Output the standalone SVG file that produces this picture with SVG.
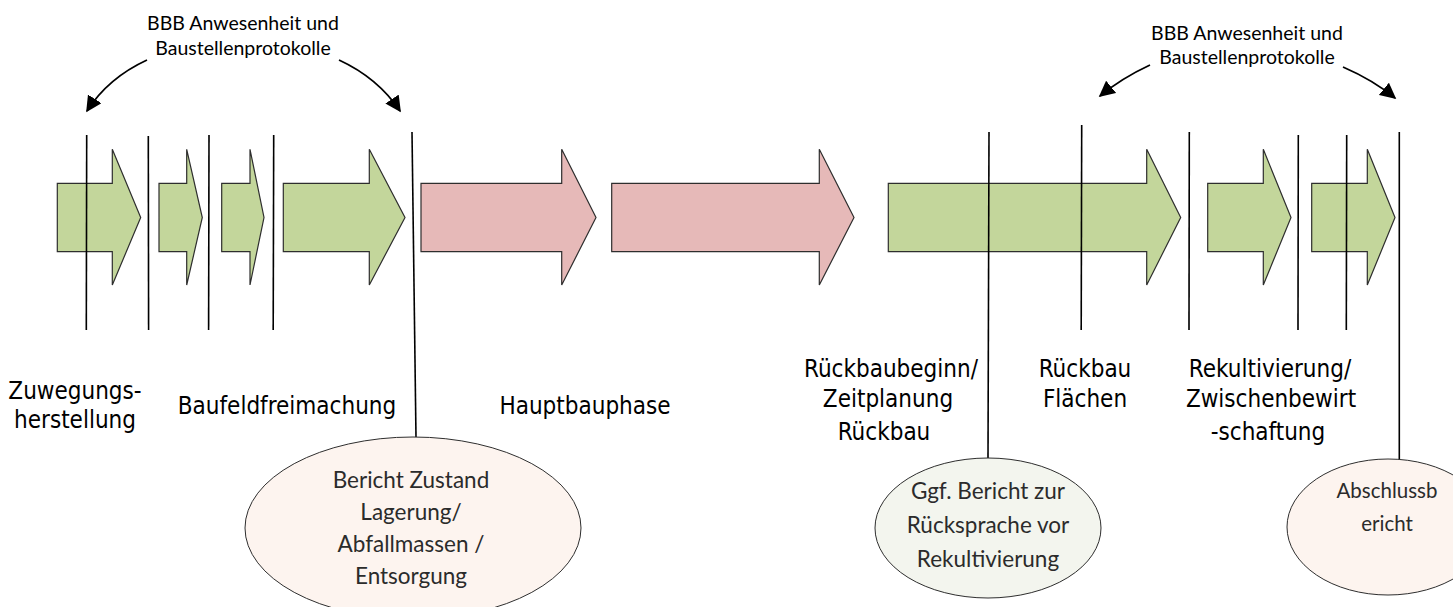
<svg xmlns="http://www.w3.org/2000/svg" width="1453" height="607" viewBox="0 0 1453 607">
<style>
.g{fill:#c3d69b;stroke:#2e2e2e;stroke-width:1.2}
.r{fill:#e6b9b8;stroke:#2e2e2e;stroke-width:1.2}
.v{stroke:#000;stroke-width:1.6;fill:none}
.c{stroke:#000;stroke-width:1.8;fill:none}
.lab{font-family:"Liberation Sans Narrow","DejaVu Sans Condensed","Liberation Sans",sans-serif;font-size:24px;fill:#000;text-anchor:middle}
.top{font-family:Lato,"Open Sans",sans-serif;font-size:19.5px;fill:#000;text-anchor:middle}
.ell{font-family:Lato,"Open Sans",sans-serif;font-size:22.5px;fill:#2b2b2b;text-anchor:middle}
.ell3{font-family:Lato,"Open Sans",sans-serif;font-size:20.5px;fill:#2b2b2b;text-anchor:middle}
.e1{fill:#fdf4ef;stroke:#2e2e2e;stroke-width:1}
.e2{fill:#f3f5ee;stroke:#2e2e2e;stroke-width:1}
</style>
<defs>
<marker id="ah2" viewBox="0 0 10 10" refX="9" refY="5" markerWidth="16" markerHeight="16" markerUnits="userSpaceOnUse" orient="auto">
<path d="M0,0 L10,5 L0,10 z" fill="#000"/>
</marker>
</defs>

<g id="arrows">
<polygon id="a1" class="g" points="57.3,183.3 112.3,183.3 112.3,149.3 140.7,217.5 112.3,285 112.3,251.7 57.3,251.7"/>
<polygon id="a2" class="g" points="159,183.3 186.7,183.3 186.7,149.3 202.3,217.5 186.7,285 186.7,251.7 159,251.7"/>
<polygon id="a3" class="g" points="221.7,183.3 250,183.3 250,149.3 264,217.5 250,285 250,251.7 221.7,251.7"/>
<polygon id="a4" class="g" points="283.3,183.3 369.3,183.3 369.3,149.3 405,217.5 369.3,285 369.3,251.7 283.3,251.7"/>
<polygon id="a5" class="r" points="421,183.3 561.7,183.3 561.7,149.3 596,217.5 561.7,285 561.7,251.7 421,251.7"/>
<polygon id="a6" class="r" points="611.7,183.3 819.3,183.3 819.3,149.3 854,217.5 819.3,285 819.3,251.7 611.7,251.7"/>
<polygon id="a7" class="g" points="888.3,183.3 1146.7,183.3 1146.7,149.3 1180.7,217.5 1146.7,285 1146.7,251.7 888.3,251.7"/>
<polygon id="a8" class="g" points="1207.7,183.3 1263.3,183.3 1263.3,149.3 1291,217.5 1263.3,285 1263.3,251.7 1207.7,251.7"/>
<polygon id="a9" class="g" points="1311.7,183.3 1367.3,183.3 1367.3,149.3 1395,217.5 1367.3,285 1367.3,251.7 1311.7,251.7"/>
</g>

<g id="connectors">
<line class="v" x1="86.7" y1="135" x2="86.3" y2="330"/>
<line class="v" x1="148.3" y1="136" x2="148.6" y2="330"/>
<line class="v" x1="209" y1="135" x2="208.6" y2="330"/>
<line class="v" x1="273.7" y1="135" x2="273.2" y2="330"/>
<line class="v" x1="412" y1="132" x2="416" y2="437"/>
<line class="v" x1="989" y1="132" x2="988" y2="458"/>
<line class="v" x1="1081.7" y1="125" x2="1081.2" y2="330"/>
<line class="v" x1="1189.3" y1="132" x2="1189" y2="330"/>
<line class="v" x1="1298.3" y1="135" x2="1298" y2="330"/>
<line class="v" x1="1346.7" y1="135" x2="1346.3" y2="330"/>
<line class="v" x1="1399.3" y1="132" x2="1399.3" y2="462"/>
<path class="c" d="M147,60 Q108,78 87,111" marker-end="url(#ah2)"/>
<path class="c" d="M339,60 Q378,78 400,111" marker-end="url(#ah2)"/>
<path class="c" d="M1150,65 Q1122,78 1100,96" marker-end="url(#ah2)"/>
<path class="c" d="M1343,67 Q1373,80 1395,98" marker-end="url(#ah2)"/>
</g>

<g id="top-left">
<text class="top" x="243" y="30">BBB Anwesenheit und</text>
<text class="top" x="243" y="55">Baustellenprotokolle</text>
</g>
<g id="top-right">
<text class="top" x="1247" y="40">BBB Anwesenheit und</text>
<text class="top" x="1247" y="64">Baustellenprotokolle</text>
</g>

<g id="label-zuwegung">
<text class="lab" x="75" y="399">Zuwegungs-</text>
<text class="lab" x="75" y="428">herstellung</text>
</g>
<g id="label-baufeld"><text class="lab" x="287" y="414">Baufeldfreimachung</text></g>
<g id="label-haupt"><text class="lab" x="585" y="414">Hauptbauphase</text></g>
<g id="label-rueckbaubeginn">
<text class="lab" x="891" y="377">Rückbaubeginn/</text>
<text class="lab" x="888" y="407">Zeitplanung</text>
<text class="lab" x="884" y="440">Rückbau</text>
</g>
<g id="label-rueckbau">
<text class="lab" x="1085" y="377">Rückbau</text>
<text class="lab" x="1085" y="407">Flächen</text>
</g>
<g id="label-rekult">
<text class="lab" x="1270" y="377">Rekultivierung/</text>
<text class="lab" x="1271" y="407">Zwischenbewirt</text>
<text class="lab" x="1268" y="440">-schaftung</text>
</g>

<g id="ellipse-bericht">
<ellipse class="e1" cx="413" cy="528" rx="168" ry="91"/>
<text class="ell" x="411" y="488">Bericht Zustand</text>
<text class="ell" x="411" y="520">Lagerung/</text>
<text class="ell" x="411" y="552">Abfallmassen /</text>
<text class="ell" x="411" y="584">Entsorgung</text>
</g>
<g id="ellipse-ggf">
<ellipse class="e2" cx="988" cy="528" rx="113" ry="70"/>
<text class="ell" x="988" y="499">Ggf. Bericht zur</text>
<text class="ell" x="988" y="533">Rücksprache vor</text>
<text class="ell" x="988" y="567">Rekultivierung</text>
</g>
<g id="ellipse-abschluss">
<ellipse class="e1" cx="1388" cy="527" rx="101" ry="68"/>
<text class="ell3" x="1387" y="498">Abschlussb</text>
<text class="ell3" x="1387" y="531">ericht</text>
</g>
</svg>
